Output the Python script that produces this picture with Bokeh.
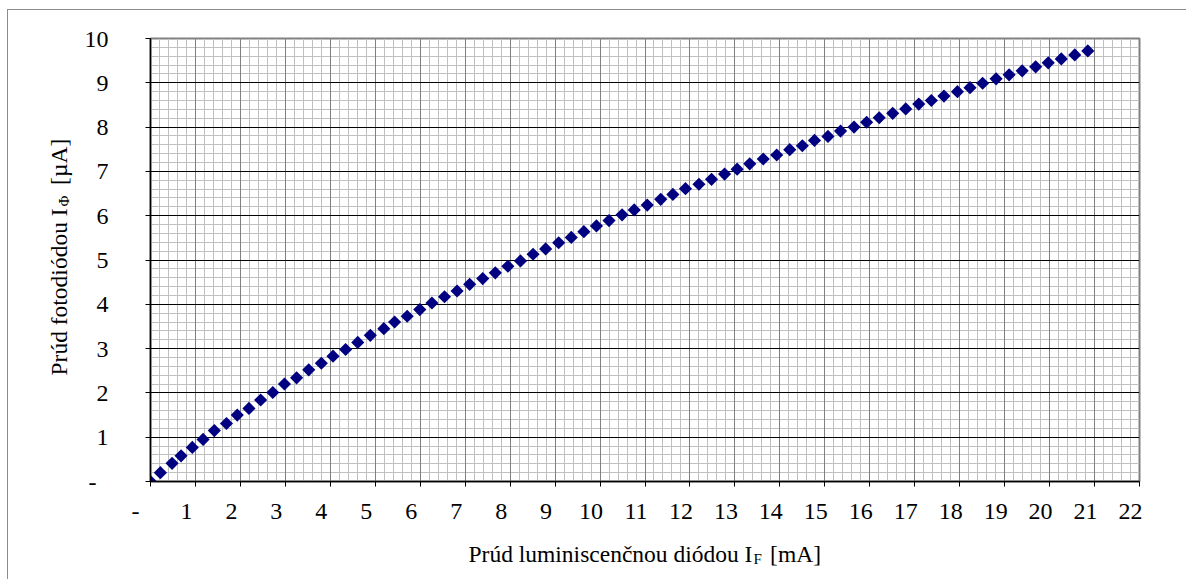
import numpy as np
from bokeh.plotting import figure
from bokeh.models import Range1d, FixedTicker, Label, Grid
from bokeh.embed import file_html
from bokeh.resources import INLINE

# ---- data ----
if_ma = [0.00, 0.22, 0.48, 0.68, 0.93, 1.17, 1.42, 1.69, 1.93, 2.19,
         2.45, 2.72, 2.98, 3.25, 3.52, 3.80, 4.06, 4.34, 4.61, 4.89,
         5.19, 5.43, 5.71, 5.99, 6.26, 6.54, 6.82, 7.10, 7.39, 7.67,
         7.95, 8.23, 8.51, 8.79, 9.08, 9.36, 9.64, 9.92, 10.20, 10.49,
         10.76, 11.05, 11.35, 11.62, 11.90, 12.20, 12.48, 12.77, 13.05, 13.33,
         13.63, 13.93, 14.22, 14.50, 14.77, 15.07, 15.35, 15.65, 15.93, 16.21,
         16.51, 16.80, 17.09, 17.37, 17.65, 17.95, 18.23, 18.51, 18.81, 19.10,
         19.39, 19.69, 19.97, 20.26, 20.56, 20.85]
iphi_ua = [0.00, 0.20, 0.41, 0.58, 0.77, 0.95, 1.15, 1.31, 1.50, 1.65,
           1.84, 2.01, 2.20, 2.34, 2.52, 2.67, 2.83, 2.98, 3.14, 3.30,
           3.45, 3.60, 3.73, 3.88, 4.03, 4.17, 4.30, 4.45, 4.58, 4.71,
           4.86, 4.98, 5.13, 5.25, 5.39, 5.51, 5.64, 5.77, 5.89, 6.02,
           6.13, 6.24, 6.37, 6.48, 6.61, 6.71, 6.82, 6.94, 7.05, 7.17,
           7.28, 7.37, 7.49, 7.58, 7.70, 7.79, 7.91, 8.00, 8.11, 8.21,
           8.31, 8.41, 8.52, 8.60, 8.70, 8.80, 8.89, 8.99, 9.09, 9.18,
           9.27, 9.36, 9.45, 9.54, 9.63, 9.72]

x_ticks = [0, 1, 2, 3, 4, 5, 6, 7, 8, 9, 10, 11, 12, 13, 14, 15, 16, 17, 18, 19, 20, 21, 22]
x_tick_labels = ["-", "1", "2", "3", "4", "5", "6", "7", "8", "9", "10", "11",
                 "12", "13", "14", "15", "16", "17", "18", "19", "20", "21", "22"]
y_ticks = [0, 1, 2, 3, 4, 5, 6, 7, 8, 9, 10]
y_tick_labels = ["-", "1", "2", "3", "4", "5", "6", "7", "8", "9", "10"]

x_title_main = "Prúd luminiscenčnou diódou I"
x_title_sub = "F"
x_title_unit = "[mA]"
y_title_main = "Prúd fotodiódou I"
y_title_sub = "Φ"
y_title_unit = "[µA]"

# ---- layout constants ----
FONT = "Liberation Serif"
X0, X1 = 0, 22
Y0, Y1 = 0, 10
FL, FR, FT, FB = 150, 1139, 38, 481   # frame edges in window pixels

def dx(px):
    return X0 + (px - FL) * (X1 - X0) / (FR - FL)

def dy(py):
    return Y0 + (FB - py) * (Y1 - Y0) / (FB - FT)

x_minor = [i / 5 for i in range(0, 22 * 5 + 1)]
y_minor = [i / 5 for i in range(0, 10 * 5 + 1)]

p = figure(width=1179, height=570,
           x_range=Range1d(X0, X1), y_range=Range1d(Y0, Y1),
           output_backend="svg", toolbar_location=None,
           min_border_left=FL - 8, min_border_right=1187 - FR,
           min_border_top=FT - 10, min_border_bottom=580 - FB)
p.styles = {"margin-left": "7px", "margin-top": "9px",
            "border-top": "1px solid #8c8c8c", "border-left": "1px solid #8c8c8c"}
p.background_fill_color = "white"
p.border_fill_color = "white"
p.outline_line_color = "#808080"
p.outline_line_width = 2

# axes
p.xaxis.ticker = FixedTicker(ticks=x_ticks, minor_ticks=x_minor)
p.yaxis.ticker = FixedTicker(ticks=y_ticks, minor_ticks=y_minor)
xo = {}
for t, lab in zip(x_ticks, x_tick_labels):
    xo[t] = lab + ("\u00a0" * 5 if lab == "-" else "\u00a0" * 3)
p.xaxis.major_label_overrides = xo
yo = {}
for t, lab in zip(y_ticks, y_tick_labels):
    yo[t] = lab + ("\u00a0" * 2 if lab == "-" else "")
p.yaxis.major_label_overrides = yo

for ax in (p.xaxis, p.yaxis):
    ax.axis_line_color = "black"
    ax.axis_line_width = 1.5
    ax.major_tick_line_color = "black"
    ax.major_tick_out = 5
    ax.major_tick_in = 0
    ax.minor_tick_line_color = None
    ax.major_label_text_font = FONT
    ax.major_label_text_font_size = "24px"
    ax.major_label_text_color = "black"
p.xaxis.major_label_standoff = 11
p.yaxis.major_label_standoff = 37

# grids: minor first, then majors on top
p.xgrid.grid_line_color = None
p.ygrid.grid_line_color = None
p.xgrid.minor_grid_line_color = "#c0c0c0"
p.ygrid.minor_grid_line_color = "#c0c0c0"
p.xgrid.minor_grid_line_width = 1
p.ygrid.minor_grid_line_width = 1
gx = Grid(dimension=0, ticker=FixedTicker(ticks=x_ticks), grid_line_color="#808080", grid_line_width=1)
gy = Grid(dimension=1, ticker=FixedTicker(ticks=y_ticks), grid_line_color="#000000", grid_line_width=1)
p.add_layout(gx)
p.add_layout(gy)

# data markers (diamonds)
p.scatter(if_ma, iphi_ua, marker="square", angle=np.pi / 4, size=9.3,
          fill_color="#000080", line_color=None)

# axis titles (with subscripts) -- placed in side panels so they are not clipped to the frame
common = dict(text_font=FONT, text_color="black", text_baseline="alphabetic", text_align="left")
p.add_layout(Label(x=dx(468), y=dy(553), text=x_title_main + "\u2002\u00a0" + x_title_unit,
                   text_font_size="23.5px", **common), "below")
p.add_layout(Label(x=dx(753), y=dy(558), text=x_title_sub, text_font_size="15px", **common), "below")

p.add_layout(Label(x=dx(58), y=dy(375), text=y_title_main + "\u2002\u00a0\u00a0" + y_title_unit,
                   angle=np.pi / 2, text_font_size="23.5px", **common), "left")
p.add_layout(Label(x=dx(63), y=dy(206), text=y_title_sub, angle=np.pi / 2,
                   text_font_size="15px", **common), "left")

open("out.html", "w").write(file_html(p, INLINE))
